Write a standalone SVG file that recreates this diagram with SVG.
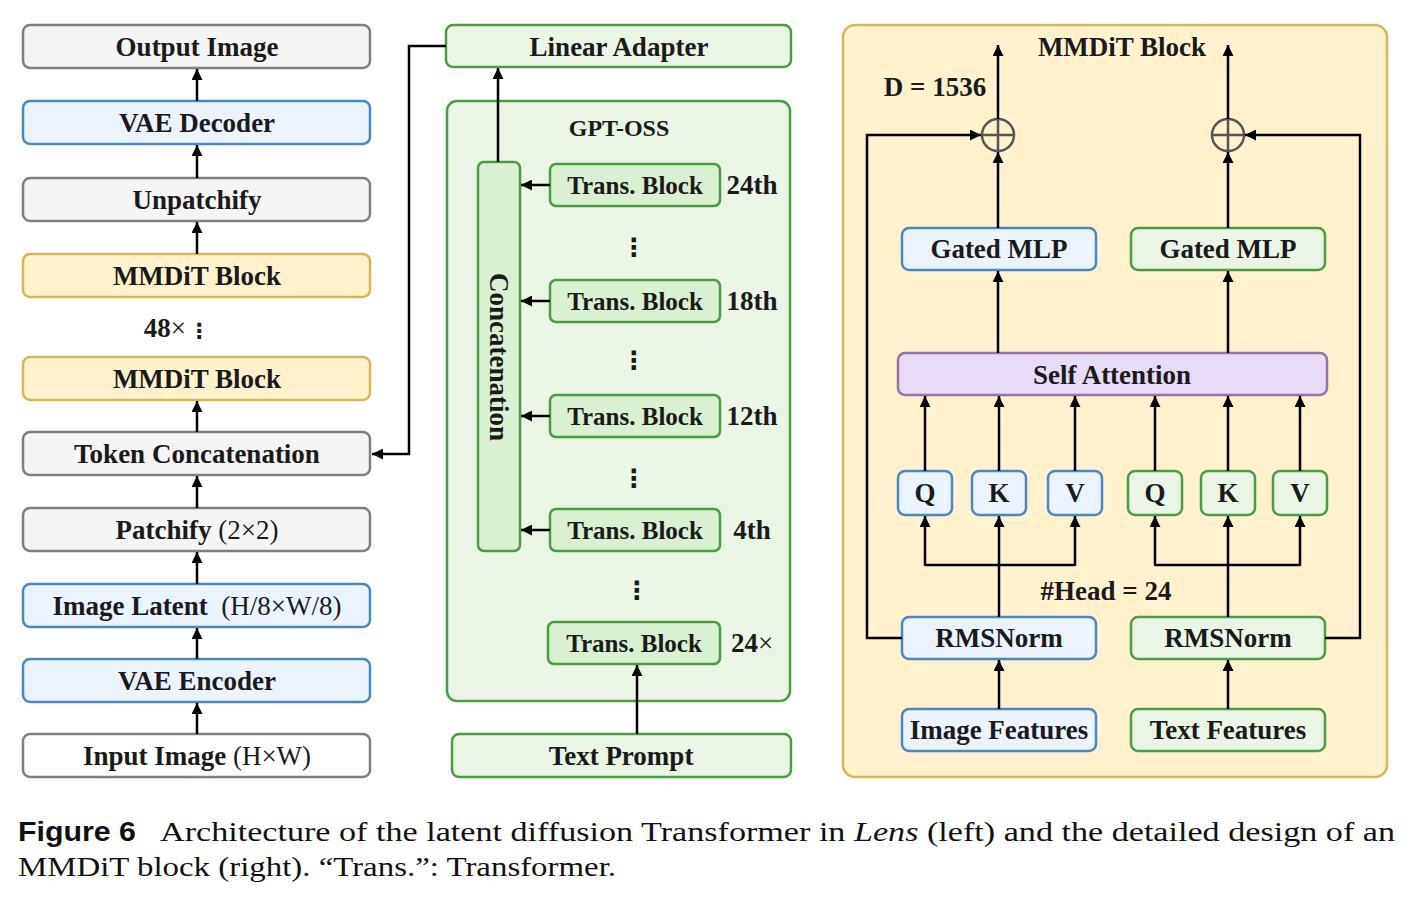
<svg xmlns="http://www.w3.org/2000/svg" width="1411" height="897" viewBox="0 0 1411 897">
<defs>
<marker id="ah" viewBox="0 0 10 10" refX="10" refY="5" markerWidth="11" markerHeight="11" markerUnits="userSpaceOnUse" orient="auto">
<path d="M0,0 L10,5 L0,10 z" fill="#000"/>
</marker>
<style>
.b{stroke-width:2.5}
.gray{fill:#F5F5F5;stroke:#7F7F7F}
.white{fill:#FFFFFF;stroke:#7F7F7F}
.blue{fill:#EBF3FE;stroke:#4A86C8}
.yel{fill:#FFF2CC;stroke:#D6B656}
.grn{fill:#EAF5E6;stroke:#4E9A45}
.grn2{fill:#D9F0D3;stroke:#4E9A45}
.pur{fill:#E8DBF6;stroke:#9673A6}
.t{font-family:"Liberation Serif",serif;font-weight:bold;font-size:27px;fill:#1a1a1a;text-anchor:middle}
.r{font-weight:normal}
.dots{font-family:"DejaVu Sans",sans-serif;font-weight:bold;font-size:25px;fill:#1a1a1a;text-anchor:middle}
.ln{stroke:#000;stroke-width:2.5;fill:none}
.a{stroke:#000;stroke-width:2.5;fill:none;marker-end:url(#ah)}
.cap{font-family:"Liberation Serif",serif;font-size:27px;fill:#111}
</style>
</defs>
<rect width="1411" height="897" fill="#fff"/>

<!-- Left column -->
<g id="output-image"><rect class="b gray" x="23" y="25" width="347" height="43" rx="7"/><text class="t" x="197" y="56">Output Image</text></g>
<g id="vae-decoder"><rect class="b blue" x="23" y="101" width="347" height="43" rx="7"/><text class="t" x="197" y="132">VAE Decoder</text></g>
<g id="unpatchify"><rect class="b gray" x="23" y="178" width="347" height="43" rx="7"/><text class="t" x="197" y="209">Unpatchify</text></g>
<g id="mmdit-top"><rect class="b yel" x="23" y="254" width="347" height="43" rx="7"/><text class="t" x="197" y="285">MMDiT Block</text></g>
<g id="repeat-48"><text class="t" x="186" y="337" style="text-anchor:end">48<tspan class="r">×</tspan></text><text class="dots" x="199" y="338" style="font-size:21px">⋮</text></g>
<g id="mmdit-bottom"><rect class="b yel" x="23" y="357" width="347" height="43" rx="7"/><text class="t" x="197" y="388">MMDiT Block</text></g>
<g id="token-concat"><rect class="b gray" x="23" y="432" width="347" height="43" rx="7"/><text class="t" x="197" y="463">Token Concatenation</text></g>
<g id="patchify"><rect class="b gray" x="23" y="508" width="347" height="43" rx="7"/><text class="t" x="197" y="539">Patchify <tspan class="r">(2×2)</tspan></text></g>
<g id="image-latent"><rect class="b blue" x="23" y="584" width="347" height="43" rx="7"/><text class="t" x="197" y="615" xml:space="preserve">Image Latent  <tspan class="r">(H/8×W/8)</tspan></text></g>
<g id="vae-encoder"><rect class="b blue" x="23" y="659" width="347" height="43" rx="7"/><text class="t" x="197" y="690">VAE Encoder</text></g>
<g id="input-image"><rect class="b white" x="23" y="734" width="347" height="43" rx="7"/><text class="t" x="197" y="765">Input Image <tspan class="r">(H×W)</tspan></text></g>

<!-- Middle column -->
<g id="linear-adapter"><rect class="b grn" x="446" y="25" width="345" height="42" rx="7"/><text class="t" x="619" y="56">Linear Adapter</text></g>
<g id="gpt-oss"><rect class="b grn" x="447" y="101" width="343" height="600" rx="10"/><text class="t" x="619" y="136" style="font-size:24px">GPT-OSS</text></g>
<g id="concatenation"><rect class="b grn2" x="478" y="162" width="42" height="389" rx="6"/><text class="t" transform="translate(499,357) rotate(90)" x="0" y="9">Concatenation</text></g>
<g id="tb-24th"><rect class="b grn2" x="550" y="164" width="170" height="42" rx="6"/><text class="t" x="635" y="194" style="font-size:25px">Trans. Block</text><text class="t" x="752" y="194">24th</text></g>
<g id="tb-18th"><rect class="b grn2" x="550" y="280" width="170" height="42" rx="6"/><text class="t" x="635" y="310" style="font-size:25px">Trans. Block</text><text class="t" x="752" y="310">18th</text></g>
<g id="tb-12th"><rect class="b grn2" x="550" y="395" width="170" height="42" rx="6"/><text class="t" x="635" y="425" style="font-size:25px">Trans. Block</text><text class="t" x="752" y="425">12th</text></g>
<g id="tb-4th"><rect class="b grn2" x="550" y="509" width="170" height="42" rx="6"/><text class="t" x="635" y="539" style="font-size:25px">Trans. Block</text><text class="t" x="752" y="539">4th</text></g>
<g id="tb-base"><rect class="b grn2" x="548" y="622" width="172" height="42" rx="6"/><text class="t" x="634" y="652" style="font-size:25px">Trans. Block</text><text class="t" x="752" y="652">24<tspan class="r">×</tspan></text></g>
<g id="ellipses"><text class="dots" x="634" y="256">⋮</text><text class="dots" x="634" y="369">⋮</text><text class="dots" x="634" y="487">⋮</text><text class="dots" x="637" y="599">⋮</text></g>
<g id="text-prompt"><rect class="b grn" x="452" y="734" width="339" height="43" rx="7"/><text class="t" x="621" y="765">Text Prompt</text></g>

<!-- Right panel -->
<g id="mmdit-detail"><rect class="b yel" x="843" y="25" width="544" height="752" rx="12"/><text class="t" x="1122" y="56">MMDiT Block</text><text class="t" x="935" y="96">D = 1536</text><text class="t" x="1106" y="600">#Head = 24</text></g>
<g id="add-left"><circle cx="998" cy="135" r="16" fill="none" stroke="#555" stroke-width="2.5"/><path d="M982,135 H1014 M998,119 V151" stroke="#555" stroke-width="2.5"/></g>
<g id="add-right"><circle cx="1228" cy="135" r="16" fill="none" stroke="#555" stroke-width="2.5"/><path d="M1212,135 H1244 M1228,119 V151" stroke="#555" stroke-width="2.5"/></g>
<g id="gated-mlp-img"><rect class="b blue" x="902" y="228" width="194" height="42" rx="7"/><text class="t" x="999" y="258">Gated MLP</text></g>
<g id="gated-mlp-txt"><rect class="b grn" x="1131" y="228" width="194" height="42" rx="7"/><text class="t" x="1228" y="258">Gated MLP</text></g>
<g id="self-attention"><rect class="b pur" x="898" y="353" width="429" height="42" rx="7"/><text class="t" x="1112" y="384">Self Attention</text></g>
<g id="q-img"><rect class="b blue" x="898" y="471" width="54" height="44" rx="7"/><text class="t" x="925" y="502">Q</text></g>
<g id="k-img"><rect class="b blue" x="972" y="471" width="54" height="44" rx="7"/><text class="t" x="999" y="502">K</text></g>
<g id="v-img"><rect class="b blue" x="1048" y="471" width="54" height="44" rx="7"/><text class="t" x="1075" y="502">V</text></g>
<g id="q-txt"><rect class="b grn" x="1128" y="471" width="54" height="44" rx="7"/><text class="t" x="1155" y="502">Q</text></g>
<g id="k-txt"><rect class="b grn" x="1201" y="471" width="54" height="44" rx="7"/><text class="t" x="1228" y="502">K</text></g>
<g id="v-txt"><rect class="b grn" x="1273" y="471" width="54" height="44" rx="7"/><text class="t" x="1300" y="502">V</text></g>
<g id="rmsnorm-img"><rect class="b blue" x="902" y="617" width="194" height="42" rx="7"/><text class="t" x="999" y="647">RMSNorm</text></g>
<g id="rmsnorm-txt"><rect class="b grn" x="1131" y="617" width="194" height="42" rx="7"/><text class="t" x="1228" y="647">RMSNorm</text></g>
<g id="image-features"><rect class="b blue" x="902" y="709" width="194" height="42" rx="7"/><text class="t" x="999" y="739">Image Features</text></g>
<g id="text-features"><rect class="b grn" x="1131" y="709" width="194" height="42" rx="7"/><text class="t" x="1228" y="739">Text Features</text></g>

<!-- Connectors -->
<g id="connectors">
<path class="a" d="M197,101 V69"/>
<path class="a" d="M197,178 V145"/>
<path class="a" d="M197,254 V222"/>
<path class="a" d="M197,432 V401"/>
<path class="a" d="M197,508 V476"/>
<path class="a" d="M197,584 V552"/>
<path class="a" d="M197,659 V628"/>
<path class="a" d="M197,734 V703"/>
<path class="a" d="M446,46 H409 V454 H372"/>
<path class="a" d="M498,162 V68"/>
<path class="a" d="M550,185 H521"/>
<path class="a" d="M550,301 H521"/>
<path class="a" d="M550,416 H521"/>
<path class="a" d="M550,530 H521"/>
<path class="a" d="M637,734 V665"/>
<path class="a" d="M998,119 V45"/>
<path class="a" d="M1228,119 V45"/>
<path class="a" d="M902,638 H867 V135 H981"/>
<path class="a" d="M1325,638 H1360 V135 H1245"/>
<path class="a" d="M998,228 V152"/>
<path class="a" d="M1228,228 V152"/>
<path class="a" d="M998,353 V271"/>
<path class="a" d="M1228,353 V271"/>
<path class="a" d="M925,471 V396"/>
<path class="a" d="M999,471 V396"/>
<path class="a" d="M1075,471 V396"/>
<path class="a" d="M1155,471 V396"/>
<path class="a" d="M1228,471 V396"/>
<path class="a" d="M1300,471 V396"/>
<path class="a" d="M999,617 V516"/>
<path class="ln" d="M925,565 H1075"/>
<path class="a" d="M925,566 V516"/>
<path class="a" d="M1075,566 V516"/>
<path class="a" d="M1228,617 V516"/>
<path class="ln" d="M1155,565 H1300"/>
<path class="a" d="M1155,566 V516"/>
<path class="a" d="M1300,566 V516"/>
<path class="a" d="M999,709 V660"/>
<path class="a" d="M1228,709 V660"/>
</g>

<!-- Caption -->
<g id="caption">
<text x="18" y="841" style="font-family:'Liberation Sans',sans-serif;font-weight:bold;font-size:27px;fill:#111" textLength="118" lengthAdjust="spacingAndGlyphs">Figure 6</text>
<text class="cap" x="160" y="841" textLength="1235" lengthAdjust="spacingAndGlyphs">Architecture of the latent diffusion Transformer in <tspan font-style="italic">Lens</tspan> (left) and the detailed design of an</text>
<text class="cap" x="18" y="876" textLength="598" lengthAdjust="spacingAndGlyphs">MMDiT block (right). “Trans.”: Transformer.</text>
</g>
</svg>
